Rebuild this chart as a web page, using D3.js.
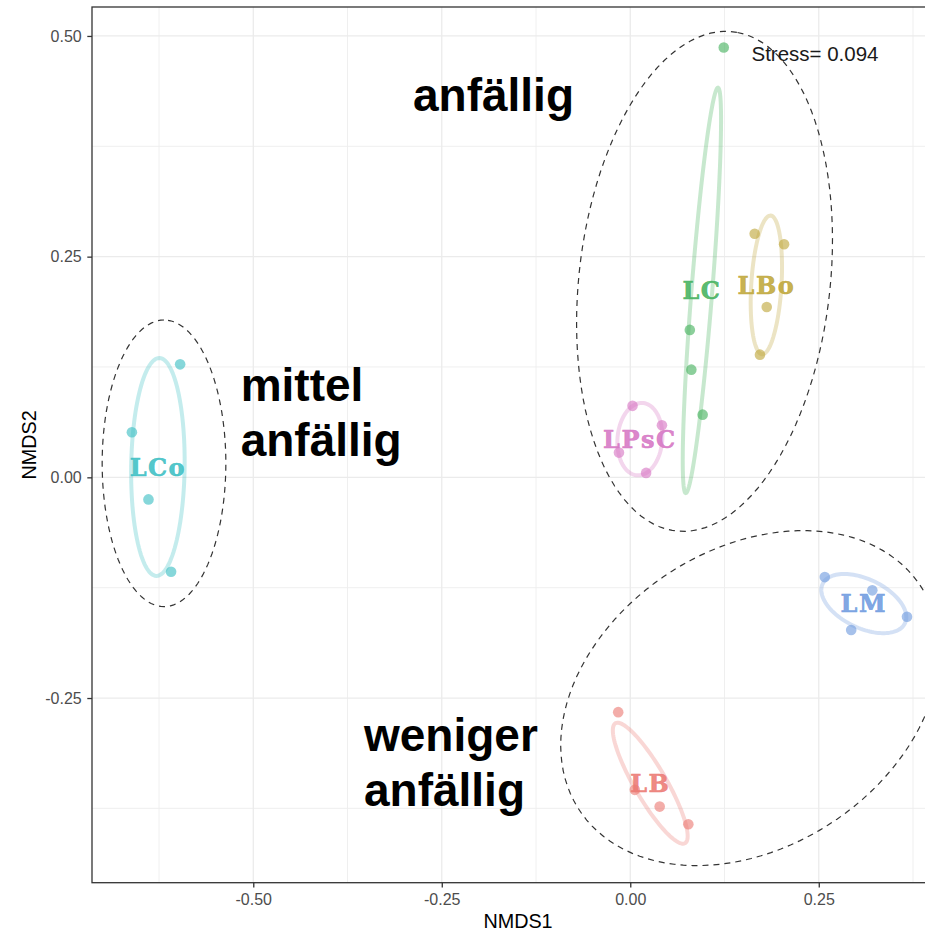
<!DOCTYPE html>
<html>
<head>
<meta charset="utf-8">
<script src="https://cdn.jsdelivr.net/npm/d3@7"></script>
<style>
  body { margin: 0; background: #fff; }
  svg { display: block; }
</style>
</head>
<body>
<script>
// Site scores from the NMDS ordination, one entry per sample
const siteGroup = ["LB","LB","LB","LB",
                   "LBo","LBo","LBo","LBo",
                   "LC","LC","LC","LC",
                   "LCo","LCo","LCo","LCo",
                   "LM","LM","LM","LM",
                   "LPsC","LPsC","LPsC","LPsC"];
const siteNMDS1 = [-0.016, 0.006, 0.039, 0.077,
                    0.165, 0.204, 0.181, 0.172,
                    0.124, 0.079, 0.081, 0.096,
                   -0.597,-0.661,-0.639,-0.609,
                    0.258, 0.321, 0.367, 0.293,
                    0.003, 0.042,-0.015, 0.021];
const siteNMDS2 = [-0.266,-0.354,-0.373,-0.393,
                    0.276, 0.264, 0.193, 0.139,
                    0.487, 0.167, 0.122, 0.071,
                    0.128, 0.051,-0.025,-0.107,
                   -0.113,-0.128,-0.158,-0.173,
                    0.081, 0.059, 0.028, 0.005];

// Groups and their colours
const groups = ["LB","LBo","LC","LCo","LM","LPsC"];
const groupColors = ["#EC7A74","#BFA73A","#45B25E","#3CBFC4","#6F9BDF","#D676C4"];

// Susceptibility zones drawn as dashed ellipses (centre and shape matrix)
const zoneNames   = ["anfällig","mittel anfällig","weniger anfällig"];
const zoneCX      = [0.0985, -0.6184, 0.1588];
const zoneCY      = [0.2220,  0.0159, -0.2501];
const zoneSxx     = [0.02880, 0.006729, 0.06303];
const zoneSyy     = [0.08020, 0.02635, 0.03600];
const zoneSxy     = [0.00800, 0.0,     0.01341];
const zoneLabelLines = [["anfällig"], ["mittel","anfällig"], ["weniger","anfällig"]];
const zoneLabelX  = [-0.2882, -0.5167, -0.3532];
const zoneLabelY  = [ 0.4154,  0.0869, -0.3097];

const xTicks = [-0.50, -0.25, 0.00, 0.25];
const yTicks = [-0.25, 0.00, 0.25, 0.50];
const xMinor = [-0.625, -0.375, -0.125, 0.125, 0.375];
const yMinor = [-0.375, -0.125, 0.125, 0.375];
const xDomain = [-0.7139, 0.4161];
const yDomain = [-0.4592, 0.5328];
const stressText = "Stress= 0.094";
const stressPos = [0.245, 0.48];

// Layout
const W = 925, H = 931;
const panel = { left: 92, top: 7, width: 852, height: 875.7 };

const svg = d3.select("body").append("svg")
  .attr("width", W).attr("height", H)
  .style("font-family", "'Liberation Sans', Arial, sans-serif");

const x = d3.scaleLinear().domain(xDomain).range([panel.left, panel.left + panel.width]);
const y = d3.scaleLinear().domain(yDomain).range([panel.top + panel.height, panel.top]);
const color = d3.scaleOrdinal().domain(groups).range(groupColors);

svg.append("defs").append("clipPath").attr("id", "panel-clip")
  .append("rect").attr("x", panel.left).attr("y", panel.top)
  .attr("width", panel.width).attr("height", panel.height);

// Grid
const grid = svg.append("g").attr("clip-path", "url(#panel-clip)");
grid.selectAll(".xminor").data(xMinor).join("line")
  .attr("x1", d => x(d)).attr("x2", d => x(d))
  .attr("y1", panel.top).attr("y2", panel.top + panel.height)
  .attr("stroke", "#EDEDED").attr("stroke-width", 0.9);
grid.selectAll(".yminor").data(yMinor).join("line")
  .attr("y1", d => y(d)).attr("y2", d => y(d))
  .attr("x1", panel.left).attr("x2", panel.left + panel.width)
  .attr("stroke", "#EDEDED").attr("stroke-width", 0.9);
grid.selectAll(".xmajor").data(xTicks).join("line")
  .attr("x1", d => x(d)).attr("x2", d => x(d))
  .attr("y1", panel.top).attr("y2", panel.top + panel.height)
  .attr("stroke", "#EBEBEB").attr("stroke-width", 1.3);
grid.selectAll(".ymajor").data(yTicks).join("line")
  .attr("y1", d => y(d)).attr("y2", d => y(d))
  .attr("x1", panel.left).attr("x2", panel.left + panel.width)
  .attr("stroke", "#EBEBEB").attr("stroke-width", 1.3);

// Ellipse outline from centre and 2x2 shape matrix (data units), scaled by k
function ellipsePoints(cx, cy, sxx, syy, sxy, k) {
  const tr = (sxx + syy) / 2;
  const d = Math.sqrt(((sxx - syy) / 2) ** 2 + sxy ** 2);
  const l1 = tr + d, l2 = Math.max(tr - d, 0);
  const th = 0.5 * Math.atan2(2 * sxy, sxx - syy);
  const a = k * Math.sqrt(l1), b = k * Math.sqrt(l2);
  const c = Math.cos(th), s = Math.sin(th);
  return d3.range(0, 121).map(i => {
    const t = i / 120 * 2 * Math.PI;
    const u = a * Math.cos(t), v = b * Math.sin(t);
    return [cx + u * c - v * s, cy + u * s + v * c];
  });
}
const line = d3.line().x(p => x(p[0])).y(p => y(p[1])).curve(d3.curveLinearClosed);

const plot = svg.append("g").attr("clip-path", "url(#panel-clip)");

// Per-group standard-error ellipses (95 %)
const sites = siteGroup.map((g, i) => ({ g, x: siteNMDS1[i], y: siteNMDS2[i] }));
const groupStats = groups.map(g => {
  const pts = sites.filter(s => s.g === g);
  const n = pts.length;
  const mx = d3.mean(pts, p => p.x), my = d3.mean(pts, p => p.y);
  const sxx = d3.sum(pts, p => (p.x - mx) ** 2) / (n - 1);
  const syy = d3.sum(pts, p => (p.y - my) ** 2) / (n - 1);
  const sxy = d3.sum(pts, p => (p.x - mx) * (p.y - my)) / (n - 1);
  const k = Math.sqrt(-2 * Math.log(1 - 0.95) / n);
  return { g, mx, my, path: ellipsePoints(mx, my, sxx, syy, sxy, k) };
});

plot.selectAll(".grp-ellipse").data(groupStats).join("path")
  .attr("d", d => line(d.path))
  .attr("fill", "none")
  .attr("stroke", d => color(d.g))
  .attr("stroke-opacity", 0.3)
  .attr("stroke-width", 4);

// Zone ellipses
plot.selectAll(".zone").data(zoneNames).join("path")
  .attr("d", (d, i) => line(ellipsePoints(zoneCX[i], zoneCY[i], zoneSxx[i], zoneSyy[i], zoneSxy[i], 1)))
  .attr("fill", "none")
  .attr("stroke", "#333")
  .attr("stroke-width", 1.2)
  .attr("stroke-dasharray", "6,5");

// Points
plot.selectAll(".site").data(sites).join("circle")
  .attr("cx", d => x(d.x)).attr("cy", d => y(d.y))
  .attr("r", 5.3)
  .attr("fill", d => color(d.g))
  .attr("fill-opacity", 0.62);

// Group labels at centroids
plot.selectAll(".grp-label").data(groupStats).join("text")
  .attr("x", d => x(d.mx)).attr("y", d => y(d.my))
  .attr("dy", "0.36em")
  .attr("text-anchor", "middle")
  .attr("font-family", "'DejaVu Serif', 'Liberation Serif', serif")
  .attr("font-weight", "bold")
  .attr("font-size", 24)
  .attr("letter-spacing", 1.5)
  .attr("fill", d => color(d.g))
  .attr("stroke", d => color(d.g))
  .attr("stroke-width", 0.6)
  .attr("fill-opacity", 0.9)
  .attr("stroke-opacity", 0.9)
  .text(d => d.g);

// Stress annotation
svg.append("text")
  .attr("x", x(stressPos[0])).attr("y", y(stressPos[1]))
  .attr("dy", "0.35em")
  .attr("text-anchor", "middle")
  .attr("font-size", 20.5)
  .attr("fill", "#1a1a1a")
  .text(stressText);

// Zone labels
zoneLabelLines.forEach((lines, i) => {
  const t = svg.append("text")
    .attr("x", x(zoneLabelX[i])).attr("y", y(zoneLabelY[i]))
    .attr("font-size", 46).attr("font-weight", "bold").attr("fill", "#000");
  lines.forEach((s, j) => {
    t.append("tspan").attr("x", x(zoneLabelX[i])).attr("dy", j === 0 ? 0 : 55).text(s);
  });
});

// Panel border
svg.append("rect")
  .attr("x", panel.left).attr("y", panel.top)
  .attr("width", panel.width).attr("height", panel.height)
  .attr("fill", "none").attr("stroke", "#333333").attr("stroke-width", 1.3);

// Axes
const fmt = v => d3.format(".2f")(v).replace("\u2212", "-");
const xAxis = svg.append("g")
  .attr("transform", `translate(0,${panel.top + panel.height})`)
  .call(d3.axisBottom(x).tickValues(xTicks).tickFormat(fmt).tickSize(4.7).tickPadding(6));
const yAxis = svg.append("g")
  .attr("transform", `translate(${panel.left},0)`)
  .call(d3.axisLeft(y).tickValues(yTicks).tickFormat(fmt).tickSize(4.7).tickPadding(5.6));
[xAxis, yAxis].forEach(a => {
  a.select(".domain").remove();
  a.selectAll(".tick line").attr("stroke", "#333333").attr("stroke-width", 1.3);
  a.selectAll(".tick text").attr("fill", "#4D4D4D")
    .attr("font-size", 16).attr("font-family", "'Liberation Sans', Arial, sans-serif");
});

// Axis titles
svg.append("text")
  .attr("x", panel.left + panel.width / 2).attr("y", 928)
  .attr("text-anchor", "middle").attr("font-size", 19.8).attr("fill", "#000")
  .text("NMDS1");
svg.append("text")
  .attr("transform", `translate(35.5,${panel.top + panel.height / 2}) rotate(-90)`)
  .attr("text-anchor", "middle").attr("font-size", 19.8).attr("fill", "#000")
  .text("NMDS2");
</script>
</body>
</html>
